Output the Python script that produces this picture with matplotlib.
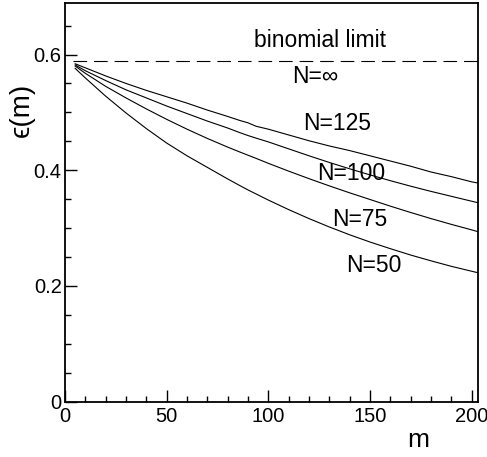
import numpy as np
from matplotlib import pyplot as plt
from matplotlib.ticker import MultipleLocator

plt.rcParams['font.family'] = ['Liberation Sans', 'DejaVu Sans']
plt.rcParams['lines.scale_dashes'] = False

# values
m = [5, 10, 20, 30, 40, 50, 60, 70, 80, 86, 90, 94, 100, 110, 120, 130, 140, 150, 160, 170, 180, 190, 200, 203]
eps_125 = [.584, .577, .563, .550, .538, .527, .516, .504, .493, .486, .482, .476, .471, .461, .451, .442, .434, .425, .416, .407, .397, .389, .380, .378]
eps_100 = [.582, .572, .555, .539, .525, .511, .498, .485, .473, .465, .460, .4555, .449, .437, .425, .4135, .4025, .392, .382, .3725, .3635, .355, .3465, .344]
eps_75 = [.580, .5675, .545, .525, .506, .488, .471, .455, .440, .4315, .426, .4205, .412, .3985, .3855, .373, .361, .3495, .338, .327, .3165, .3065, .297, .294]
eps_50 = [.576, .5595, .528, .499, .472, .447, .425, .405, .385, .3735, .366, .359, .3485, .332, .3165, .302, .2885, .276, .2645, .2535, .2435, .234, .2255, .223]
binomial_limit = 0.589

labels = ['binomial limit', 'N=\u221e', 'N=125', 'N=100', 'N=75', 'N=50']
label_x = [125.4, 122.9, 133.7, 140.6, 145.0, 151.7]
label_y = [0.613, 0.550, 0.469, 0.383, 0.3035, 0.2245]

fig = plt.figure(figsize=(4.87, 4.57), dpi=100)
ax = fig.add_axes([0.1335, 0.121, 0.9825 - 0.1335, 0.9934 - 0.121])

for e in [eps_125, eps_100, eps_75, eps_50]:
    ax.plot(m, e, color='k', lw=0.8)

ax.plot([4, 203.4], [binomial_limit, binomial_limit], color='k', lw=0.8, dashes=(9.8, 5.0))

for k in range(len(labels)):
    ax.text(label_x[k], label_y[k], labels[k], ha='center', va='baseline', fontsize=16.5)

ax.set_xlim(0, 203.4)
ax.set_ylim(0, 0.689)

ax.set_xticks([0, 50, 100, 150, 200])
ax.set_yticks([0, 0.2, 0.4, 0.6])
ax.set_yticklabels(['0', '0.2', '0.4', '0.6'])
ax.xaxis.set_minor_locator(MultipleLocator(10))
ax.yaxis.set_minor_locator(MultipleLocator(0.05))
ax.tick_params(which='both', direction='in', width=1.0, labelsize=14.5)
ax.tick_params(which='major', length=8.6)
ax.tick_params(which='minor', length=4.3)
ax.tick_params(axis='x', pad=4.0)
ax.tick_params(axis='y', pad=2.4)
for s in ax.spines.values():
    s.set_linewidth(1.3)

# axis titles, ROOT style
fig.text(418 / 487, 1 - 440 / 457, 'm', ha='center', va='center', fontsize=19)
fig.text(22 / 487, 1 - 110 / 457, '\u03f5(m)', ha='center', va='center', fontsize=20, rotation=90)

plt.savefig('out.png', dpi=100)
